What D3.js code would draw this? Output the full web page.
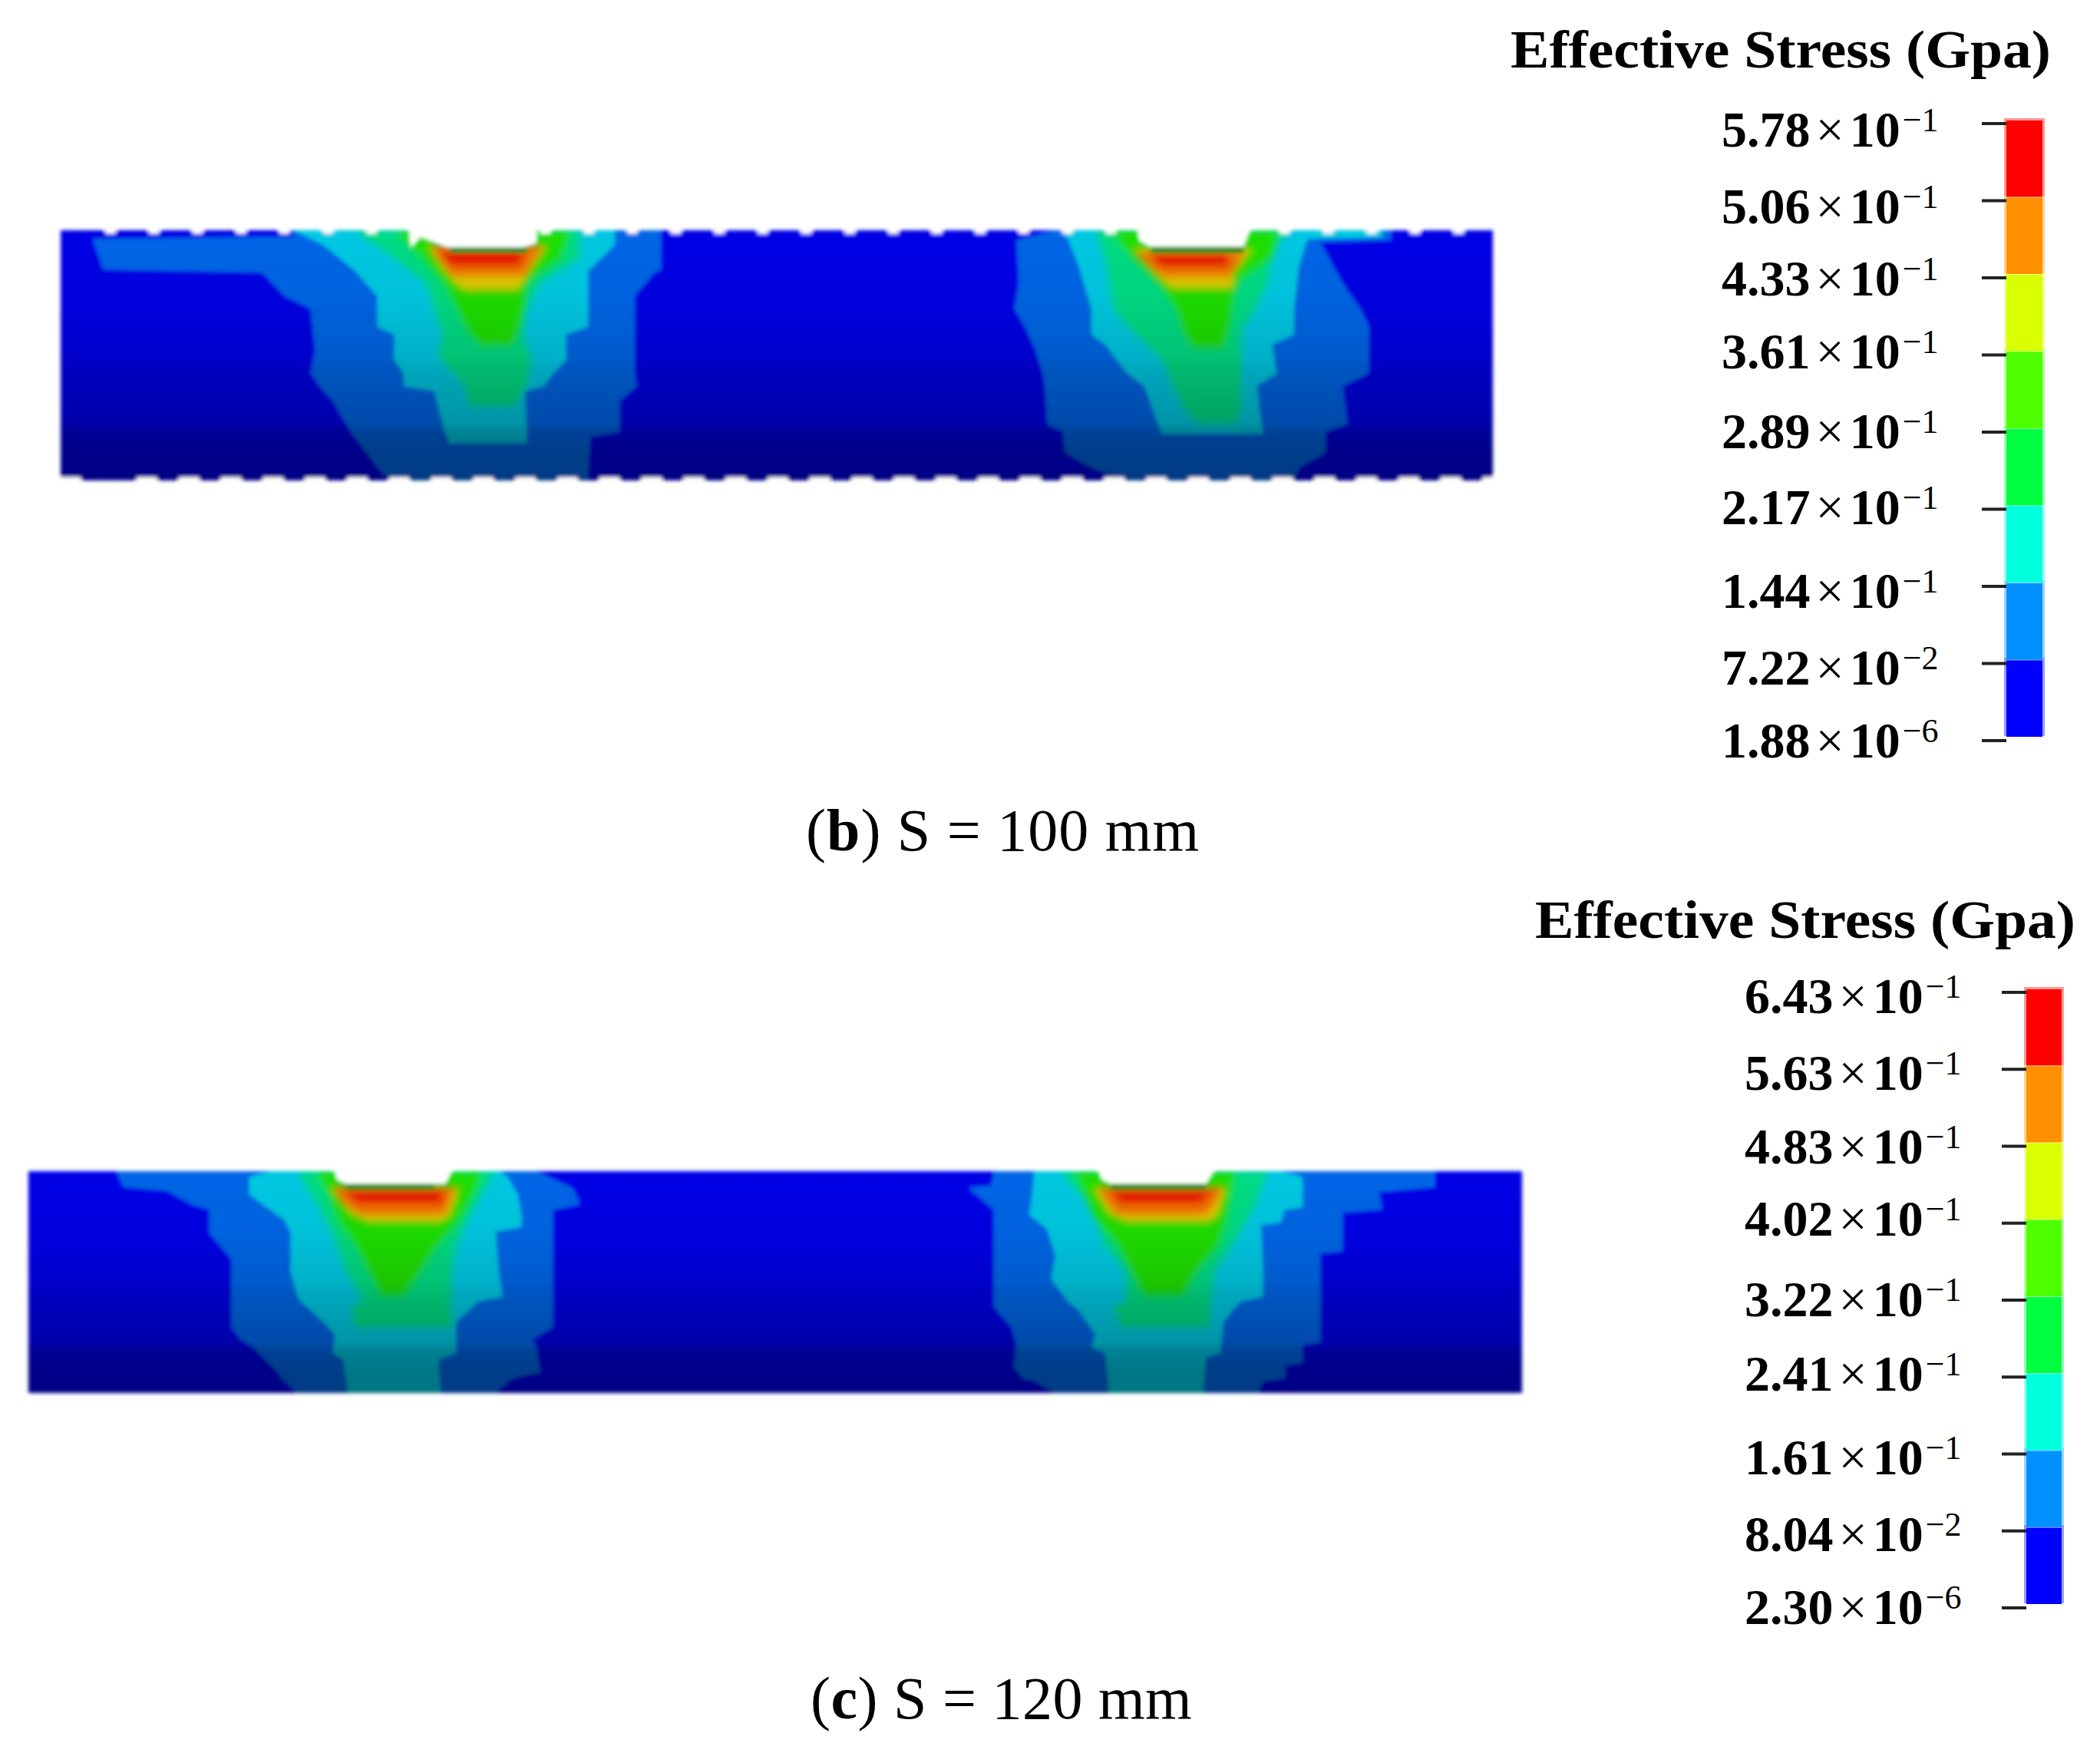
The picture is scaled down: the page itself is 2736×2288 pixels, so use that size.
<!DOCTYPE html>
<html>
<head>
<meta charset="utf-8">
<script src="https://cdnjs.cloudflare.com/ajax/libs/d3/7.8.5/d3.min.js"></script>
<style>
    body { margin: 0; background: #fff; }
    text { font-family: "Liberation Serif", serif; fill: #000; }
</style>
</head>
<body>
<div id="chart"></div>
<script>
// every contour row is [depth mm, left offset mm, right offset mm], offsets from the groove centre
const b1Contour1 = [[0,-26.1,25.5],[0.9,-26.1,25.5],[1.2,-54.2,25.5],[5.5,-52.7,25.5],[5.9,-30.4,24.6],[9.2,-27.3,21.8],[11,-23.6,21.8],[16.8,-23,21.8],[20,-23.6,21.8],[21.8,-22.4,22.1],[23.9,-20.5,19.7],[28.2,-18,19.7],[28.9,-17.4,15.6],[33.9,-13.7,15.3],[35,-11.9,15.3]];
const b1Contour2 = [[0,-26.1,19],[2.1,-21.8,19],[5.7,-17.4,15.3],[9.2,-14.3,15.3],[13.5,-14.3,15.3],[14.6,-11.9,12.2],[18.2,-11.9,12.2],[20,-10.6,10.4],[21.8,-10.6,9.1],[22.5,-6.3,6.4],[28.2,-4.8,6.7],[29.8,-4.1,6.7]];
const b1Contour3 = [[0,-17.4,14.1],[3.9,-11.9,14.1],[7.4,-7.5,8.5],[11,-6.3,6.7],[14.6,-5.1,6.1],[17.8,-5.7,7.3],[21.8,-2,6.7],[24.6,-1.4,4.8]];
const b1Contour4 = [[0,-11.9,12.9],[3.9,-8.2,11.6],[7.4,-5.1,6.7],[11,-3.2,6.4],[14.6,-1.4,5.4],[16.2,0.2,4.5]];
const b1Contour5 = [[2.1,-7.5,9.8],[5.7,-5.1,7.3],[7.8,-3.2,6.1],[8.5,-2,5.4]];
const b1Contour6 = [[2.1,-6.9,9.1],[4.9,-5.1,7.3],[6.4,-3.8,6.4]];
const b1Contour7 = [[3,-5.7,6.4],[4.9,-4.1,5.7]];
const b1Cap = [[2.3,-4.1,6.7],[3.2,-4.1,6.7]];
const b1Notch = [[-9.8,-1],[-9.8,0],[-9.6,2.4],[-8.2,0.9],[-4.4,2.4],[6.2,2.4],[8,1.8],[8.1,0],[8.1,-1]];

const b2Contour1 = [[0,-19,27.9],[1.4,-24.6,27.9],[1.7,-24.6,18],[7.4,-24.3,21.1],[11,-24.9,23.6],[13.5,-23.4,24.8],[16.4,-22.1,24.8],[20,-20.9,24.8],[21.8,-20.6,21.1],[27.1,-20.3,21.8],[28.2,-18.1,18.7],[31.1,-17.8,18.7],[33.2,-14.1,15],[35,-9.1,14.3]];
const b2Contour2 = [[0,-17.8,26.7],[1,-17.8,26.7],[1.2,-17.4,16.2],[5,-15.9,15],[11,-14.1,14.3],[14.6,-14.1,14.3],[16,-12.2,11.2],[20,-9.1,11.9],[21.8,-6.7,9.1],[27,-4.8,9.7],[28.5,-4.2,10]];
const b2Contour3 = [[0,-13.5,13.1],[3.9,-12.2,11.2],[7.4,-11.5,10.6],[11,-11,8.8],[14,-8.5,6.9],[18,-4.2,6.9],[21,-3,6.9],[25,-1.1,6.9],[27,0.7,6.3]];
const b2Contour4 = [[0,-11.6,12.2],[3.9,-8.5,11.2],[7.4,-4.8,6.3],[11,-2.3,5.7],[14.6,-1.1,5.1],[16.5,0.1,4.4]];
const b2Contour5 = [[2.5,-8.5,8.8],[6,-5.4,6],[8.3,-3,6]];
const b2Contour6 = [[3,-8.2,7.5],[5,-6.1,6.3],[6.5,-4.2,5.4]];
const b2Contour7 = [[3,-6.1,5.1],[5,-4.5,5.1]];
const b2Cap = [[2.3,-5.7,7.2],[3.2,-5.7,7.2]];
const b2Notch = [[-7.6,-1],[-7.6,0],[-7.4,1.4],[-5.8,2.3],[7.2,2.3],[8.1,0],[8.1,-1]];

const c1Contour1 = [[0,-43.4,22.4],[2.5,-42.4,27.9],[3.1,-35.5,28.5],[5.3,-31.6,29.3],[6.1,-28.9,25.1],[9.7,-28.9,25.1],[13.8,-25.4,25.1],[24.6,-25.4,25.1],[26.5,-24,22],[27.8,-22,22.5],[31.8,-18,23.1],[32.6,-17.6,18.9],[34.3,-15.7,16.8],[35,-15,16.1]];
const c1Contour2 = [[0,-19.2,16.8],[0.9,-22.6,18],[3.7,-22.6,19.6],[7.7,-17.1,20.3],[8.9,-16.5,20],[9.5,-16.1,16.1],[15.8,-16.1,16.6],[19.8,-15,17.2],[20.6,-14.5,13.4],[23.8,-10.9,9.9],[25.8,-9.1,9.9],[28.6,-9.5,9.9],[29.8,-7.8,7.1],[35,-7.1,7.5]];
const c1Contour3 = [[0,-15,16.1],[5.7,-11.6,12.7],[11.7,-8.8,9.9],[15.8,-7.4,9.2],[20.6,-4.6,9.2],[21.4,-6.7,9.2],[24.6,-6,9.2]];
const c1Contour4 = [[0,-12.3,14.1],[3.7,-10.2,12.7],[7.7,-8.8,10.6],[11.7,-6,7.1],[15.8,-3.9,4.4],[19.8,-1.9,1.6]];
const c1Contour5 = [[2.5,-10.2,10.6],[6.9,-6.7,9.2],[8.1,-3.9,7.8]];
const c1Contour6 = [[2.5,-9.5,9.9],[4.9,-8.1,8.9],[6.9,-5.3,8.2]];
const c1Contour7 = [[3.1,-7.8,7.8],[5.1,-5.7,7.8]];
const c1Cap = [[2,-7.4,6.4],[2.9,-7.4,6.4]];
const c1Notch = [[-9.1,-1],[-9.1,0],[-8.8,1.3],[-7.4,2],[8.2,2],[9.2,0],[9.2,-1]];

const c2Contour1 = [[0,-25.6,43.7],[2.3,-26,43.7],[2.5,-29.4,43.7],[3.3,-29,34.7],[3.7,-28.3,35],[6.1,-25.6,35.4],[6.5,-25.6,29.2],[12.6,-25.6,29.2],[13,-25.6,25.7],[21.4,-25.6,25.7],[24.6,-22.8,25.7],[27,-22.1,25.7],[27.4,-22.1,22.9],[30.2,-22.3,22.9],[30.7,-22.6,20.2],[32.7,-21,20.2],[33.1,-19.3,16.7],[35,-15.9,16]];
const c2Contour2 = [[0,-19.3,19.5],[0.9,-19.3,22.9],[5.7,-19.8,22.9],[6.1,-20,20.2],[6.9,-20,19.8],[8.1,-18.5,19.5],[8.5,-18,16.3],[9.3,-17.2,16.4],[13.4,-15.9,16.6],[17,-16.6,16.7],[19.8,-14.5,16.7],[20.6,-14,13.2],[21.8,-12.4,12],[23.8,-11,10.5],[25.8,-9.6,10.3],[27.8,-10.3,10.1],[28.6,-8.2,10.1],[29.4,-8,7.7],[35,-7.5,7.3]];
const c2Contour3 = [[0,-15.2,17.4],[5.7,-10.3,15.3],[11.7,-8.2,11.8],[15.8,-4.8,9.1],[20.6,-4.8,8.4],[21.4,-6.9,8.4],[24.6,-5.5,8.4]];
const c2Contour4 = [[0,-13.1,12.5],[7.7,-9.6,11.1],[11.7,-6.2,9.8],[15.8,-4.1,6.3],[19.8,-2,4.2]];
const c2Contour5 = [[2.5,-10.3,11.1],[6.9,-7.5,9.8],[8.1,-4.8,8.4]];
const c2Contour6 = [[2.5,-9.3,10.4],[4.9,-7.9,9.4],[6.9,-6.2,7.7]];
const c2Contour7 = [[3.1,-7.2,8.7],[5.1,-5.8,7]];
const c2Cap = [[2,-7.2,7.7],[2.9,-7.2,7.7]];
const c2Notch = [[-9.1,-1],[-9.1,0],[-8.6,1.3],[-7.2,2],[7.7,2],[8.9,0],[8.9,-1]];

const grooveB = [0, 100];
const grooveC = [0, 120];
const plateDepth = 35;

const legendLabelsB = ["5.78", "5.06", "4.33", "3.61", "2.89", "2.17", "1.44", "7.22", "1.88"];
const legendExpB = ["1", "1", "1", "1", "1", "1", "1", "2", "6"];
const legendLabelsC = ["6.43", "5.63", "4.83", "4.02", "3.22", "2.41", "1.61", "8.04", "2.30"];
const legendExpC = ["1", "1", "1", "1", "1", "1", "1", "2", "6"];
const legendColors = ["#ff0000", "#ff9000", "#d9ff00", "#4dff00", "#00ff40", "#00ffdd", "#0090ff", "#0000ff"];

// colours of the field at the lit top of the plate, level 0 to 7
const fieldColors = ["#0000e6", "#0066e6", "#00c8e2", "#00dc84", "#1ee000", "#e0c800", "#f07000", "#e80000"];
const shadeDepth = [0, 10, 18, 19, 27, 28, 31, 35];
const shadeValue = [1, 0.96, 0.88, 0.84, 0.74, 0.66, 0.6, 0.58];

const svg = d3.select("#chart").append("svg")
    .attr("width", 2736)
    .attr("height", 2288);

const defs = svg.append("defs");
function addBlur(id, amount) {
    defs.append("filter").attr("id", id)
        .attr("filterUnits", "userSpaceOnUse")
        .attr("x", 0).attr("y", 0).attr("width", 2736).attr("height", 2288)
        .append("feGaussianBlur").attr("stdDeviation", amount);
}
addBlur("soft", 2.4);
addBlur("softMid", 4);
addBlur("softHot", 5);

function shaded(color, k) {
    const c = d3.rgb(color);
    return d3.rgb(c.r * k, c.g * k, c.b * k).formatHex();
}

function drawPlate(p) {
    const x = d3.scaleLinear().domain(p.xDomain).range(p.xRange);
    const y = d3.scaleLinear().domain([0, plateDepth]).range(p.yRange);

    fieldColors.forEach(function (c, i) {
        const grad = defs.append("linearGradient")
            .attr("id", p.id + "Level" + i)
            .attr("gradientUnits", "userSpaceOnUse")
            .attr("x1", 0).attr("x2", 0)
            .attr("y1", y(0)).attr("y2", y(plateDepth));
        grad.selectAll("stop")
            .data(shadeDepth)
            .join("stop")
            .attr("offset", d => d / plateDepth)
            .attr("stop-color", (d, j) => shaded(c, shadeValue[j]));
    });

    defs.append("clipPath").attr("id", p.id + "Clip")
        .append("rect")
        .attr("x", x(p.xDomain[0]))
        .attr("y", y(0))
        .attr("width", x(p.xDomain[1]) - x(p.xDomain[0]))
        .attr("height", y(plateDepth) - y(0));

    const g = svg.append("g").attr("filter", "url(#soft)");

    g.append("rect")
        .attr("x", x(p.xDomain[0]))
        .attr("y", y(0))
        .attr("width", x(p.xDomain[1]) - x(p.xDomain[0]))
        .attr("height", y(plateDepth) - y(0))
        .attr("fill", "url(#" + p.id + "Level0)");

    p.grooves.forEach(function (gr) {
        const area = d3.area()
            .y(d => y(d[0]))
            .x0(d => x(gr.at + d[1]))
            .x1(d => x(gr.at + d[2]));

        gr.contours.slice(0, 2).forEach(function (rows, i) {
            g.append("path").attr("d", area(rows))
                .attr("fill", "url(#" + p.id + "Level" + (i + 1) + ")");
        });

        const mid = g.append("g")
            .attr("filter", "url(#softMid)")
            .attr("clip-path", "url(#" + p.id + "Clip)");
        gr.contours.slice(2, 4).forEach(function (rows, i) {
            mid.append("path").attr("d", area(rows))
                .attr("fill", "url(#" + p.id + "Level" + (i + 3) + ")");
        });

        const hot = g.append("g")
            .attr("filter", "url(#softHot)")
            .attr("clip-path", "url(#" + p.id + "Clip)");
        gr.contours.slice(4).forEach(function (rows, i) {
            hot.append("path").attr("d", area(rows))
                .attr("fill", "url(#" + p.id + "Level" + (i + 5) + ")");
        });

        g.append("path").attr("d", area(gr.cap)).attr("fill", "#0f8a1a");

        g.append("path")
            .attr("d", d3.line().x(d => x(gr.at + d[0])).y(d => y(d[1]))(gr.notch) + "Z")
            .attr("fill", "#fff");
    });

    // mesh element edges show as small steps along the free surfaces of plate b
    if (p.meshTop) {
        g.selectAll("rect.top")
            .data(p.meshTop)
            .join("rect")
            .attr("class", "top")
            .attr("x", d => x(d))
            .attr("y", y(-0.5))
            .attr("width", x(1.4) - x(0))
            .attr("height", y(0.5) - y(-0.5))
            .attr("fill", "#fff");
        g.selectAll("rect.bottom")
            .data(p.meshBottom)
            .join("rect")
            .attr("class", "bottom")
            .attr("x", d => x(d))
            .attr("y", y(plateDepth - 0.45))
            .attr("width", x(2.8) - x(0))
            .attr("height", y(1) - y(0))
            .attr("fill", "#fff");
    }
}

function drawLegend(l) {
    const y = d3.scaleLinear().domain([0, l.colors.length]).range(l.yRange);
    const bar = svg.append("g");

    bar.selectAll("rect.halo")
        .data(l.colors)
        .join("rect")
        .attr("class", "halo")
        .attr("x", l.x - 3)
        .attr("y", (d, i) => y(i))
        .attr("width", l.w + 6)
        .attr("height", y(1) - y(0) + 1)
        .attr("fill", d => d)
        .attr("opacity", 0.4);

    bar.selectAll("rect.cell")
        .data(l.colors)
        .join("rect")
        .attr("class", "cell")
        .attr("x", l.x)
        .attr("y", (d, i) => y(i) + 3)
        .attr("width", l.w)
        .attr("height", y(1) - y(0) - 1)
        .attr("fill", d => d);

    const rows = svg.append("g").selectAll("g")
        .data(l.labels)
        .join("g");

    rows.append("line")
        .attr("x1", l.x - 32)
        .attr("x2", l.x)
        .attr("y1", (d, i) => y(i) + l.tickShift)
        .attr("y2", (d, i) => y(i) + l.tickShift)
        .attr("stroke", "#222")
        .attr("stroke-width", 4);

    const label = rows.append("text")
        .attr("x", l.labelX)
        .attr("y", (d, i) => y(i) + l.tickShift + l.nudge[i])
        .attr("font-size", 66)
        .attr("font-weight", "bold");
    label.append("tspan").text(d => d);
    label.append("tspan").attr("dx", 7).attr("font-weight", "normal").text("×");
    label.append("tspan").attr("dx", 7).text("10");
    label.append("tspan")
        .attr("dx", 3)
        .attr("dy", -20)
        .attr("font-size", 44)
        .attr("font-weight", "normal")
        .text((d, i) => "−" + l.exp[i]);

    svg.append("text")
        .attr("x", l.titleX)
        .attr("y", l.titleY)
        .attr("font-size", 70)
        .attr("font-weight", "bold")
        .attr("textLength", 704)
        .attr("lengthAdjust", "spacingAndGlyphs")
        .text("Effective Stress (Gpa)");
}

function drawCaption(c) {
    const t = svg.append("text")
        .attr("x", c.x)
        .attr("y", c.y)
        .attr("font-size", 78)
        .attr("letter-spacing", c.spacing);
    t.append("tspan").text("(");
    t.append("tspan").attr("font-weight", "bold").text(c.letter);
    t.append("tspan").text(") S = " + c.value + " mm");
}

drawPlate({
    id: "b",
    xDomain: [-58.7, 142.2],
    xRange: [79, 1945],
    yRange: [300, 626],
    grooves: [
        { at: grooveB[0], contours: [b1Contour1, b1Contour2, b1Contour3, b1Contour4, b1Contour5, b1Contour6, b1Contour7], cap: b1Cap, notch: b1Notch },
        { at: grooveB[1], contours: [b2Contour1, b2Contour2, b2Contour3, b2Contour4, b2Contour5, b2Contour6, b2Contour7], cap: b2Cap, notch: b2Notch }
    ],
    meshTop: d3.range(-52.4, 142, 6.1),
    meshBottom: d3.range(-48, 142, 5.9).concat([-58.7])
});

drawPlate({
    id: "c",
    xDomain: [-57.3, 177.4],
    xRange: [37, 1983],
    yRange: [1526, 1815],
    grooves: [
        { at: grooveC[0], contours: [c1Contour1, c1Contour2, c1Contour3, c1Contour4, c1Contour5, c1Contour6, c1Contour7], cap: c1Cap, notch: c1Notch },
        { at: grooveC[1], contours: [c2Contour1, c2Contour2, c2Contour3, c2Contour4, c2Contour5, c2Contour6, c2Contour7], cap: c2Cap, notch: c2Notch }
    ]
});

drawLegend({
    labels: legendLabelsB, exp: legendExpB, colors: legendColors,
    x: 2614, w: 47, yRange: [154, 958], tickShift: 7,
    nudge: [30, 29, 23, 17, 21, 19, 28, 27, 22],
    labelX: 2243, titleX: 1968, titleY: 88
});

drawLegend({
    labels: legendLabelsC, exp: legendExpC, colors: legendColors,
    x: 2640, w: 46, yRange: [1286, 2088], tickShift: 7,
    nudge: [27, 27, 22, 16, 21, 18, 26, 26, 21],
    labelX: 2273, titleX: 2000, titleY: 1222
});

drawCaption({ x: 1050, y: 1108, letter: "b", value: "100", spacing: 1 });
drawCaption({ x: 1056, y: 2239, letter: "c", value: "120", spacing: 0.5 });
</script>
</body>
</html>
